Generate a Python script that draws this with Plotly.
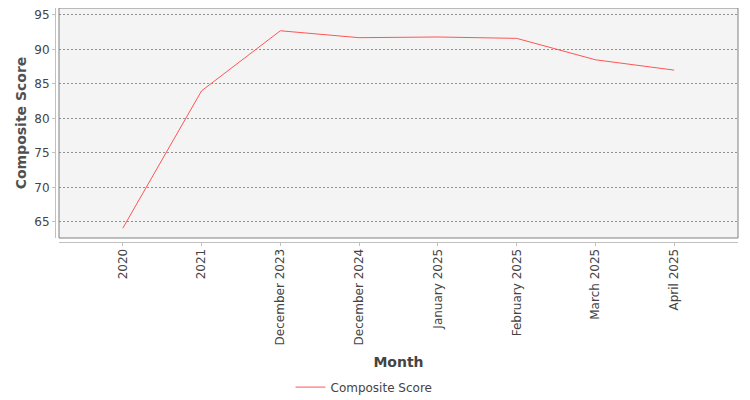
import plotly.graph_objects as go

months = ['2020', '2021', 'December 2023', 'December 2024', 'January 2025',
          'February 2025', 'March 2025', 'April 2025']
scores = [64.1, 84.0, 92.7, 91.7, 91.8, 91.6, 88.5, 87.0]
y_ticks = [65, 70, 75, 80, 85, 90, 95]

FONT = 'DejaVu Sans'
# the page body adds an 8px offset, so the figure is a bit smaller than the window
W, H = 742, 392
ml, mr, mt, mb = 47, 12, 0, 158
pw, ph = W - ml - mr, H - mt - mb
gap = 4

fig = go.Figure()
fig.add_trace(go.Scatter(x=months, y=scores, name='Composite Score',
                         mode='lines', line={'color': '#ff5555', 'width': 1}))

fig.update_layout(
  width=W, height=H,
  margin={'l': ml, 'r': mr, 't': mt, 'b': mb, 'autoexpand': False},
  paper_bgcolor='white', plot_bgcolor='#f4f4f4',
  font={'family': FONT, 'size': 12, 'color': '#444444'},
  showlegend=True,
  legend={'orientation': 'h', 'x': 0.5 - 32.5 / pw, 'xanchor': 'center',
          'y': -0.62, 'yanchor': 'middle', 'font': {'size': 12},
          'itemwidth': 30},
  xaxis={'domain': [gap / pw, 1], 'anchor': 'free', 'position': 0,
         'automargin': False,
         'type': 'category', 'range': [-0.81, 7.81],
         'tickangle': -90, 'showgrid': False, 'zeroline': False,
         'showline': True, 'linecolor': '#c0c0c0', 'linewidth': 1,
         'ticks': 'outside', 'ticklen': 3, 'tickcolor': '#c0c0c0',
         'ticklabelstandoff': -2,
         'tickfont': {'size': 12, 'color': '#444444'},
         'title': {'text': '<b>Month</b>', 'font': {'size': 14, 'color': '#444444'},
                   'standoff': 12}},
  yaxis={'domain': [gap / ph, 1], 'anchor': 'free', 'position': 0,
         'automargin': False,
         'range': [62.68, 96.0], 'tickvals': y_ticks,
         'showgrid': True, 'gridcolor': '#909090', 'griddash': '2px,2px',
         'gridwidth': 1, 'zeroline': False,
         'showline': True, 'linecolor': '#c0c0c0', 'linewidth': 1,
         'ticks': 'outside', 'ticklen': 3, 'tickcolor': '#c0c0c0',
         'tickfont': {'size': 12, 'color': '#444444'},
         'title': {'text': '<b>Composite Score</b>', 'font': {'size': 14, 'color': '#505050'},
                   'standoff': 3}},
  shapes=[{'type': 'rect', 'xref': 'paper', 'yref': 'paper',
           'x0': gap / pw, 'x1': 1, 'y0': gap / ph, 'y1': 1,
           'line': {'color': '#808080', 'width': 1}}],
)

fig.write_html('out.html')
